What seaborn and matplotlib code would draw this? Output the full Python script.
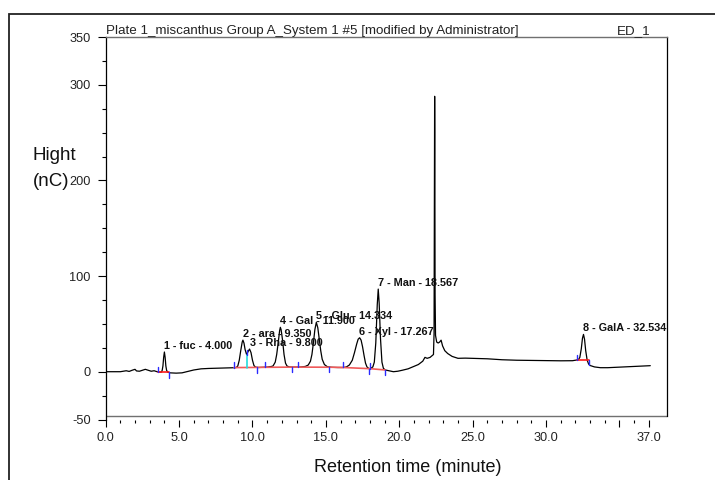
import matplotlib
matplotlib.use("Agg")
import matplotlib.pyplot as plt
import numpy as np
import pandas as pd
import seaborn as sns
from matplotlib.patches import Rectangle

# ---------------- data ----------------
time_min = [0.0, 0.5, 1.0, 1.2, 1.4, 1.6, 1.8, 2.0, 2.1, 2.3, 2.5, 2.7, 2.9, 3.1, 3.3, 3.5, 3.7,
            3.8, 3.85, 3.9, 3.95, 4.0, 4.05, 4.1, 4.15, 4.22,
            4.4, 4.8, 5.2, 5.6, 6.0, 6.5, 7.0, 7.5, 8.0, 8.5, 8.8,
            8.9, 9.0, 9.1, 9.2, 9.3, 9.35, 9.42, 9.5, 9.6, 9.7, 9.8, 9.9, 10.0, 10.1, 10.2, 10.4,
            10.6, 11.0, 11.3,
            11.4, 11.55, 11.65, 11.75, 11.85, 11.9, 11.95, 12.05, 12.15, 12.25, 12.35, 12.5,
            12.8, 13.2, 13.6,
            13.8, 13.95, 14.05, 14.15, 14.25, 14.35, 14.45, 14.55, 14.65, 14.75, 14.9, 15.1,
            15.4, 15.8, 16.2,
            16.4, 16.6, 16.8, 16.95, 17.1, 17.2, 17.3, 17.4, 17.5, 17.6, 17.7, 17.8, 17.95,
            18.05, 18.2, 18.3, 18.4, 18.5, 18.567, 18.63, 18.72, 18.82, 18.92, 19.05,
            19.3, 19.6, 19.9, 20.2, 20.6, 21.0, 21.3, 21.6, 21.75, 21.9, 22.1, 22.25, 22.33,
            22.37, 22.40, 22.41, 22.42, 22.44, 22.47, 22.55, 22.65, 22.75, 22.85, 22.95, 23.1,
            23.3, 23.6, 24.0, 24.5, 25.0, 26.0, 27.0, 28.0, 29.0, 30.0, 31.0, 31.8, 32.1,
            32.2, 32.3, 32.4, 32.48, 32.55, 32.62, 32.7, 32.8, 32.9, 33.0, 33.3, 33.7, 34.2,
            35.0, 36.0, 37.1]
signal_nc = [0.0, 0.0, 0.0, 0.5, 1.0, 0.3, 1.5, 2.5, 0.8, 0.5, 1.5, 2.5, 1.5, 0.5, 1.0, 0.0, -0.5,
             -0.3, 1.5, 6.0, 15.0, 20.6, 15.0, 6.0, 1.5, -0.5,
             -1.2, -1.5, -1.2, 0.3, 1.8, 3.0, 3.4, 3.6, 3.8, 4.0, 4.2,
             4.4, 6.0, 12.0, 22.0, 31.0, 33.0, 30.0, 23.0, 18.0, 21.0, 23.7, 20.0, 12.0, 6.5, 4.8, 4.4,
             4.5, 4.8, 5.5,
             6.0, 10.0, 18.0, 30.0, 43.0, 46.4, 44.0, 33.0, 18.0, 9.0, 6.0, 5.0,
             4.8, 4.8, 5.5,
             7.0, 11.0, 18.0, 30.0, 44.0, 51.6, 46.0, 34.0, 22.0, 13.0, 7.5, 5.2,
             4.6, 4.4, 4.4,
             5.0, 7.0, 12.0, 20.0, 29.0, 34.0, 35.5, 33.0, 26.0, 17.0, 9.0, 5.0, 3.0,
             3.5, 5.0, 10.0, 30.0, 70.0, 86.4, 72.0, 35.0, 10.0, 3.5, 1.8,
             1.0, 0.0, 0.5, 1.5, 3.0, 5.5, 7.5, 11.0, 15.0, 14.0, 15.0, 17.0, 18.0,
             40.0, 250.0, 288.0, 250.0, 80.0, 38.0, 31.0, 30.0, 31.0, 33.0, 27.0, 22.0,
             19.0, 16.0, 14.0, 14.2, 14.0, 13.5, 12.5, 12.0, 11.8, 11.5, 11.4, 11.5, 12.2,
             12.5, 15.0, 24.0, 35.0, 39.0, 34.0, 22.0, 12.0, 8.0, 6.5, 5.0, 4.2, 4.2,
             4.8, 5.5, 6.3]

peak_names = ["fuc", "ara", "Rha", "Gal", "Glu", "Xyl", "Man", "GalA"]
peak_times = [4.000, 9.350, 9.800, 11.900, 14.334, 17.267, 18.567, 32.534]
peak_heights = [20.6, 33.0, 23.7, 46.4, 51.6, 35.5, 86.4, 39.0]

# integration baselines (start/end of each peak) and delimiter ticks
bl_start = [3.58, 8.74, 10.85, 13.12, 16.19, 18.00, 32.08]
bl_end = [4.33, 10.33, 12.71, 15.21, 17.94, 19.05, 32.92]
bl_v_start = [-0.6, 4.3, 4.6, 4.8, 4.4, 3.2, 12.2]
bl_v_end = [-0.6, 4.5, 4.8, 4.7, 3.2, 1.8, 12.2]
split_time = 9.6
split_top = 17.4

x_major = [0, 5, 10, 15, 20, 25, 30, 35, 37]
x_major_labels = ["0.0", "5.0", "10.0", "15.0", "20.0", "25.0", "30.0", "", "37.0"]
x_minor = [1, 2, 3, 4, 6, 7, 8, 9, 11, 12, 13, 14, 16, 17, 18, 19, 21, 22, 23, 24,
           26, 27, 28, 29, 31, 32, 33, 34, 36]
y_major = [350, 300, 200, 100, 0, -50]
y_minor = [325, 275, 250, 225, 175, 150, 125, 75, 50, 25, -25]

title_text = "Plate 1_miscanthus Group A_System 1 #5 [modified by Administrator]"
channel_text = "ED_1"

# ---------------- figure ----------------
sns.set_style("white")
plt.rcParams["font.family"] = ["Liberation Sans", "DejaVu Sans"]

fig = plt.figure(figsize=(7.15, 4.8), dpi=100)
ax = fig.add_axes([0.1478, 0.1260, 0.7851, 0.7969])

df = pd.DataFrame({"t": time_min, "v": signal_nc})
sns.lineplot(data=df, x="t", y="v", color="black", lw=0.9, ax=ax,
             estimator=None, sort=False)

ax.set_xlim(0, 38.24)
ax.set_ylim(-50, 350)
ax.set_xlabel("")
ax.set_ylabel("")

# baselines (red)
ax.plot([bl_start[0], bl_end[0]], [bl_v_start[0], bl_v_end[0]], color="#ff1a1a", lw=1.2)
mid_t, mid_v = [], []
for s, e, vs, ve in zip(bl_start[1:6], bl_end[1:6], bl_v_start[1:6], bl_v_end[1:6]):
    mid_t += [s, e]
    mid_v += [vs, ve]
ax.plot(mid_t, mid_v, color="#f05a5a", lw=1.2)
ax.plot([bl_start[6], bl_end[6]], [bl_v_start[6], bl_v_end[6]], color="#ff1a1a", lw=1.2)

# delimiter ticks (blue)
for s, vs in zip(bl_start, bl_v_start):
    ax.plot([s, s], [vs, vs + 5.5], color="#2a2aff", lw=1.0)
for e, ve in zip(bl_end, bl_v_end):
    ax.plot([e, e], [ve, ve - 5.5], color="#2a2aff", lw=1.0)
ax.plot([split_time, split_time], [bl_v_start[1], split_top], color="#22dddd", lw=1.2)
ax.plot([split_time, split_time], [split_top, split_top + 5.5], color="#2a2aff", lw=1.0)

# peak labels
for i, (n, t, h) in enumerate(zip(peak_names, peak_times, peak_heights)):
    ax.annotate(f"{i + 1} - {n} - {t:.3f}", xy=(t, h), xytext=(0, 4.3),
                textcoords="offset points", ha="left", va="center",
                fontsize=7.8, fontweight="bold", color="#111111")

# ticks
ax.set_xticks(x_major)
ax.set_xticklabels(x_major_labels)
ax.set_xticks(x_minor, minor=True)
ax.set_yticks(y_major)
ax.set_yticklabels([str(v) for v in y_major])
ax.set_yticks(y_minor, minor=True)
ax.tick_params(axis="x", which="major", bottom=True, direction="out", length=5,
               width=0.8, pad=4.3, labelsize=9.2, color="black", labelcolor="#222222")
ax.tick_params(axis="x", which="minor", bottom=True, direction="out", length=2.4,
               width=0.8, color="black")
ax.tick_params(axis="y", which="major", left=True, direction="out", length=5.8,
               width=0.8, pad=5, labelsize=9.2, color="black", labelcolor="#222222")
ax.tick_params(axis="y", which="minor", left=True, direction="out", length=2.9,
               width=0.8, color="black")

# spines / frame
ax.spines["bottom"].set_visible(False)
ax.spines["top"].set_color("#707070")
ax.spines["top"].set_linewidth(1.0)
ax.spines["left"].set_color("black")
ax.spines["left"].set_linewidth(0.9)
ax.spines["right"].set_color("black")
ax.spines["right"].set_linewidth(0.9)
ax.spines["right"].set_bounds(-46, 350)
ax.axhline(-46, color="#707070", lw=1.0)

# header texts
ax.text(0.0, 1.0, title_text, transform=ax.transAxes, ha="left", va="bottom",
        fontsize=9.6, color="#222222")
ax.text(0.9697, 1.0, channel_text, transform=ax.transAxes, ha="right", va="bottom",
        fontsize=9.6, color="#222222")

# axis titles
fig.text(33 / 715, 1 - 159.5 / 480, "Hight", ha="left", va="baseline",
         fontsize=13.5, color="#111111")
fig.text(33 / 715, 1 - 185.5 / 480, "(nC)", ha="left", va="baseline",
         fontsize=13.5, color="#111111")
fig.text(407.5 / 715, 1 - 472 / 480, "Retention time (minute)", ha="center",
         va="baseline", fontsize=13, color="#111111")

# outer page frame
fig.patches.append(Rectangle((9 / 715, -0.05), 1.0, (1 - 14 / 480) + 0.05,
                             transform=fig.transFigure, fill=False,
                             edgecolor="#222222", lw=1.3))

fig.savefig("out.png", dpi=100)
